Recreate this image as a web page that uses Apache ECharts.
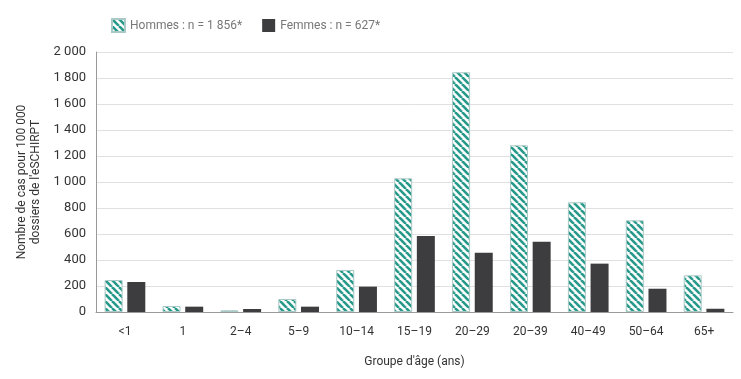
<!DOCTYPE html>
<html>
<head>
<meta charset="utf-8">
<script src="https://cdn.jsdelivr.net/npm/echarts@6/dist/echarts.min.js"></script>
<style>
  html, body { margin: 0; padding: 0; background: #fff; }
  #app { width: 741px; height: 379px; }
</style>
</head>
<body>
<div id="app"></div>
<script>
const categories = ['<1', '1', '2–4', '5–9', '10–14', '15–19', '20–29', '20–39', '40–49', '50–64', '65+'];
const hommes = [246, 46, 13, 100, 323, 1028, 1844, 1282, 844, 705, 282];
const femmes = [231, 41, 23, 41, 195, 585, 456, 541, 372, 179, 25];
const yTicks = [0, 200, 400, 600, 800, 1000, 1200, 1400, 1600, 1800, 2000];

const FONT = "Roboto, 'DejaVu Sans', sans-serif";
const TEAL = '#27998b';

// hachures diagonales pour la série Hommes
const makeHatch = () => {
  const s = 7;
  const c = document.createElement('canvas');
  c.width = s;
  c.height = s;
  const ctx = c.getContext('2d');
  ctx.fillStyle = '#fff';
  ctx.fillRect(0, 0, s, s);
  ctx.strokeStyle = TEAL;
  ctx.lineWidth = 2.6;
  [-s, 0, s].forEach(k => {
    ctx.beginPath();
    ctx.moveTo(k, 0);
    ctx.lineTo(k + s, s);
    ctx.stroke();
  });
  return c;
};

const fmt = v => String(v).replace(/\B(?=(\d{3})+(?!\d))/g, ' ');

const myChart = echarts.init(document.getElementById('app'));

const option = {
  animation: false,
  textStyle: { fontFamily: FONT },
  legend: {
    left: 106,
    top: 13,
    icon: 'rect',
    itemWidth: 13,
    itemHeight: 13,
    itemGap: 20,
    textStyle: { fontFamily: FONT, fontSize: 12, color: '#777' },
    data: ['Hommes : n = 1 856*', 'Femmes : n = 627*']
  },
  grid: { left: 96, right: 8, top: 52, bottom: 67 },
  xAxis: {
    type: 'category',
    data: categories,
    name: "Groupe d'âge (ans)",
    nameLocation: 'middle',
    nameGap: 44,
    nameTextStyle: { fontFamily: FONT, fontSize: 12, color: '#333' },
    axisLine: { lineStyle: { color: '#999', width: 1 } },
    axisTick: { inside: true, length: 5, lineStyle: { color: '#999' } },
    axisLabel: { fontFamily: FONT, fontSize: 12, color: '#333', margin: 14 }
  },
  yAxis: {
    type: 'value',
    min: 0,
    max: 2000,
    interval: 200,
    name: "Nombre de cas pour 100 000\ndossiers de l'eSCHIRPT",
    nameLocation: 'middle',
    nameGap: 49,
    nameTextStyle: { fontFamily: FONT, fontSize: 12, color: '#333', lineHeight: 14 },
    axisLine: { show: true, lineStyle: { color: '#999' } },
    axisTick: { show: false },
    axisLabel: {
      fontFamily: FONT, fontSize: 13, color: '#333', margin: 10,
      formatter: v => yTicks.includes(v) ? fmt(v) : ''
    },
    splitLine: { lineStyle: { color: '#e0e0e0' } }
  },
  series: [
    {
      name: 'Hommes : n = 1 856*',
      type: 'bar',
      data: hommes,
      barWidth: 18,
      barGap: '26%',
      itemStyle: {
        color: { image: makeHatch(), repeat: 'repeat' },
        borderColor: '#a9c9c5',
        borderWidth: 1
      }
    },
    {
      name: 'Femmes : n = 627*',
      type: 'bar',
      data: femmes,
      barWidth: 18,
      itemStyle: { color: '#3d3d3f' }
    }
  ]
};

myChart.setOption(option);
</script>
</body>
</html>
